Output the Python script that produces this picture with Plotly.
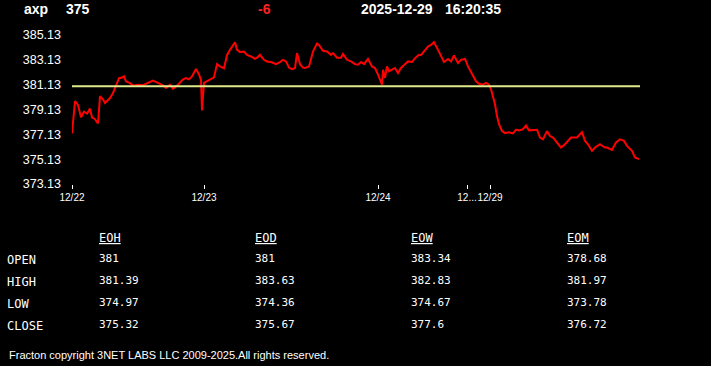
import plotly.graph_objects as go

# ---------------- data ----------------
symbol = "axp"
last_price = "375"
change = "-6"
quote_date = "2025-12-29"
quote_time = "16:20:35"

# sample index (intraday bars) and price
t = [0, 3, 6, 9, 12, 15, 18, 20, 23, 26, 28, 31, 33, 38, 41, 44, 47, 50, 52, 54, 58, 61, 66, 71,
     76, 81, 86, 91, 94, 98, 101, 106, 111, 114, 117, 120, 124, 127, 129, 130, 132, 135, 139, 142,
     145, 148, 152, 155, 158, 160, 163, 165, 168, 172, 175, 179, 183, 185, 188, 192, 195, 199, 204,
     208, 211, 214, 217, 220, 223, 225, 228, 231, 233, 237, 241, 245, 247, 251, 255, 259, 261, 265,
     269, 271, 275, 279, 283, 286, 289, 292, 296, 300, 303, 306, 310, 311, 313, 315, 317, 320, 323,
     326, 329, 333, 336, 340, 343, 347, 349, 352, 356, 359, 362, 366, 369, 372, 376, 379, 382, 386,
     389, 393, 396, 399, 402, 404, 407, 411, 414, 417, 419, 421, 423, 425, 427, 430, 433, 437, 441,
     444, 447, 451, 454, 457, 461, 465, 468, 471, 475, 478, 481, 485, 489, 493, 496, 499, 505, 510,
     513, 516, 520, 523, 528, 533, 535, 540, 544, 548, 552, 555, 560, 563, 567]
price = [377.2, 379.8, 379.5, 378.5, 378.95, 378.8, 379.2, 378.5, 378.35, 378.0, 380.2, 379.95,
         379.65, 380.05, 380.45, 381.0, 381.65, 381.7, 381.8, 381.4, 381.25, 381.05, 381.13, 381.08,
         381.27, 381.45, 381.27, 381.08, 380.87, 381.13, 380.8, 381.13, 381.55, 381.65, 381.55, 381.8,
         382.4, 381.95, 381.5, 379.05, 381.27, 381.4, 381.55, 381.72, 382.78, 382.6, 382.45, 383.5,
         383.93, 384.2, 384.55, 383.95, 383.75, 383.8, 383.53, 383.4, 383.2, 383.3, 383.53, 383.13,
         383.0, 382.95, 382.78, 382.95, 383.13, 383.0, 382.5, 382.38, 382.47, 383.67, 382.78, 382.5,
         382.47, 382.6, 383.8, 384.45, 384.33, 383.85, 383.8, 383.53, 383.67, 383.3, 383.3, 383.6,
         383.13, 383.0, 382.78, 382.73, 382.95, 382.78, 383.2, 382.6, 382.47, 381.93, 381.13, 382.33,
         381.67, 382.6, 382.2, 382.33, 382.47, 382.07, 382.47, 382.78, 383.0, 382.95, 383.26, 383.53,
         383.5, 383.8, 384.2, 384.33, 384.55, 383.93, 383.4, 382.95, 383.2, 383.0, 383.47, 382.87,
         383.13, 383.2, 382.6, 382.15, 381.8, 381.4, 381.2, 381.13, 381.27, 381.13, 380.75, 380.07,
         379.55, 378.6, 377.95, 377.4, 377.23, 377.3, 377.2, 377.5, 377.45, 377.55, 377.85, 377.45,
         377.45, 377.5, 376.87, 376.73, 377.39, 376.99, 376.87, 376.47, 376.07, 376.33, 376.6,
         376.87, 376.87, 377.31, 376.6, 376.33, 375.8, 376.07, 376.33, 376.07, 376.07, 375.87,
         376.47, 376.73, 376.6, 376.2, 375.8, 375.27, 375.13, 375.07]

reference_price = 381.0  # EOH open

day_tick_pos = [0, 132, 306, 395, 418]
day_tick_text = ["12/22", "12/23", "12/24", "12...", "12/29"]

y_tick_vals = [373.13, 375.13, 377.13, 379.13, 381.13, 383.13, 385.13]
y_tick_text = ["373.13", "375.13", "377.13", "379.13", "381.13", "383.13", "385.13"]

table_cols = ["EOH", "EOD", "EOW", "EOM"]
table_rows = ["OPEN", "HIGH", "LOW", "CLOSE"]
eoh = ["381", "381.39", "374.97", "375.32"]
eod = ["381", "383.63", "374.36", "375.67"]
eow = ["383.34", "382.83", "374.67", "377.6"]
eom = ["378.68", "381.97", "373.78", "376.72"]

footer = "Fracton copyright 3NET LABS LLC 2009-2025.All rights reserved."

# ---------------- layout geometry ----------------
W, H = 711, 366
L, R, T, B = 72, 71, 30, 182
PW = W - L - R
PH = H - T - B


def px(x):
    return (x - L) / PW


def py(y):
    return (H - B - y) / PH


fig = go.Figure()
fig.add_trace(go.Scatter(x=t, y=price, mode="lines",
                         line=dict(color="#ff0000", width=2), hoverinfo="skip",
                         showlegend=False))
fig.add_hline(y=reference_price, line=dict(color="#dfe98a", width=2))

fig.update_layout(
    width=W, height=H,
    margin=dict(l=L, r=R, t=T, b=B),
    paper_bgcolor="black", plot_bgcolor="black",
    showlegend=False,
    xaxis=dict(range=[0, 568], tickvals=day_tick_pos, ticktext=day_tick_text,
               ticks="outside", ticklen=4, tickcolor="white", tickwidth=1,
               tickangle=0,
               showgrid=False, zeroline=False, showline=False,
               tickfont=dict(family="Arial", size=10, color="white")),
    yaxis=dict(range=[373.13, 385.53], tickvals=y_tick_vals, ticktext=y_tick_text,
               showgrid=False, zeroline=False, showline=False, ticks="",
               ticklabelstandoff=10,
               tickfont=dict(family="Arial", size=12.5, color="white")),
)

ann = []


def add_text(text, x, y, size, color="white", family="Arial", bold=False):
    ann.append(dict(text=("<b>%s</b>" % text) if bold else text,
                    x=px(x), y=py(y), xref="paper", yref="paper",
                    xanchor="left", yanchor="middle", showarrow=False,
                    font=dict(family=family, size=size, color=color)))


# header
add_text(symbol, 22, 9, 14, bold=True)
add_text(last_price, 64, 9, 14, bold=True)
add_text(change, 256, 9, 14, color="#ff2020", bold=True)
add_text(quote_date, 359, 9, 14, bold=True)
add_text(quote_time, 443, 9, 14, bold=True)

# table
col_x = [97, 253, 409, 565]
row_y = [258, 280, 302, 324]
cols = [eoh, eod, eow, eom]
mono = "DejaVu Sans Mono"
for cx, name in zip(col_x, table_cols):
    add_text("<u>%s</u>" % name, cx, 238, 12, family=mono)
for ry, rname in zip(row_y, table_rows):
    add_text(rname, 5, ry + 1.5, 12, family=mono)
for cx, vals in zip(col_x, cols):
    for ry, v in zip(row_y, vals):
        add_text(v, cx, ry, 11, family=mono)

add_text(footer, 7, 355, 11)

fig.update_layout(annotations=ann)
fig.write_html("out.html")
